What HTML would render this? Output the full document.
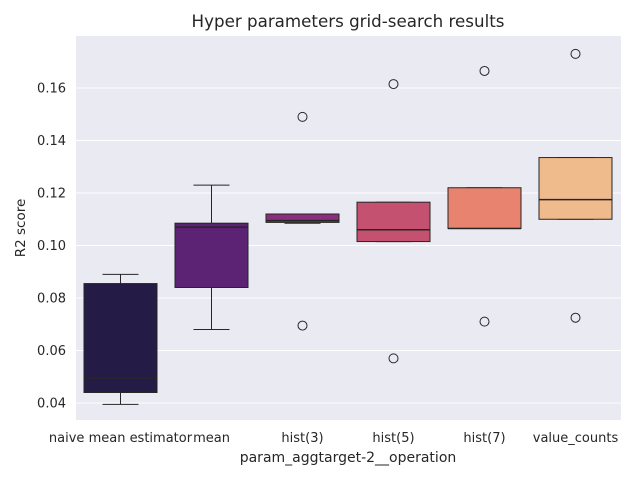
<!DOCTYPE html>
<html><head><meta charset="utf-8"><style>
body{margin:0;background:#fff;}
svg text{font-family:"DejaVu Sans","Liberation Sans",sans-serif;fill:#262626;}
</style></head><body>
<svg width="640" height="480" xmlns="http://www.w3.org/2000/svg">
<rect x="0" y="0" width="640" height="480" fill="#fff"/>
<rect x="76" y="36" width="545" height="384" fill="#eaeaf2"/>
<g id="grid"></g>
<g id="boxes"></g>
<g id="ticks"></g>
<text x="348" y="27" font-size="16.7" text-anchor="middle">Hyper parameters grid-search results</text>
<text x="348" y="462" font-size="14" text-anchor="middle">param_aggtarget-2__operation</text>
<text transform="translate(25,228) rotate(-90)" font-size="13.5" text-anchor="middle">R2 score</text>
</svg>
<script>
const categories=["naive mean estimator","mean","hist(3)","hist(5)","hist(7)","value_counts"];
const whiskLow=[0.0395,0.068,0.1085,0.1015,0.1065,0.110];
const q1=[0.044,0.084,0.1088,0.1015,0.1065,0.110];
const median=[0.0495,0.107,0.1095,0.106,0.1065,0.1175];
const q3=[0.0855,0.1085,0.112,0.1165,0.122,0.1335];
const whiskHigh=[0.089,0.123,0.112,0.1165,0.122,0.1335];
const outliers=[[],[],[0.149,0.0695],[0.1615,0.057],[0.1665,0.071],[0.173,0.0725]];
const colors=["#241b47","#5c2274","#8c2e7e","#c4516f","#e8836f","#f0bb8c"];
const yTicks=[0.04,0.06,0.08,0.10,0.12,0.14,0.16];
const NS="http://www.w3.org/2000/svg";
function y(v){return 403-(v-0.04)/0.02*52.5;}
function x(i){return 120.5+i*91;}
function mk(t,a,p){const e=document.createElementNS(NS,t);for(const k in a)e.setAttribute(k,a[k]);p.appendChild(e);return e;}
const grid=document.getElementById('grid'),ticks=document.getElementById('ticks'),boxes=document.getElementById('boxes');
yTicks.forEach(v=>{
  const l=mk('line',{x1:76,x2:621,y1:y(v),y2:y(v),stroke:'#fff','stroke-width':1},grid);
  
  
  const t=mk('text',{x:66,y:y(v)+4.5,'font-size':13,'text-anchor':'end'},ticks);
  t.textContent=v.toFixed(2);
  
  
});
categories.forEach((c,i)=>{
  const cx=x(i),hw=36.5,col='#262626';
  const g=mk('g',{},boxes);
  
  
  mk('line',{x1:cx,x2:cx,y1:y(whiskLow[i]),y2:y(q1[i]),stroke:col},g);
  mk('line',{x1:cx,x2:cx,y1:y(q3[i]),y2:y(whiskHigh[i]),stroke:col},g);
  mk('line',{x1:cx-18,x2:cx+18,y1:y(whiskLow[i]),y2:y(whiskLow[i]),stroke:col},g);
  mk('line',{x1:cx-18,x2:cx+18,y1:y(whiskHigh[i]),y2:y(whiskHigh[i]),stroke:col},g);
  mk('rect',{x:cx-hw,y:y(q3[i]),width:2*hw,height:Math.max(1,y(q1[i])-y(q3[i])),fill:colors[i],stroke:col,'stroke-width':1},g);
  mk('line',{x1:cx-hw,x2:cx+hw,y1:y(median[i]),y2:y(median[i]),stroke:col,'stroke-width':1.5},g);
  outliers[i].forEach(o=>{
    const p=mk('circle',{cx:cx,cy:y(o),r:4.5,fill:'none',stroke:col},g);
    
    
  });
  const t=mk('text',{x:cx,y:442,'font-size':13,'text-anchor':'middle'},ticks);
  t.textContent=c;
  
  
});
</script>
</body></html>
